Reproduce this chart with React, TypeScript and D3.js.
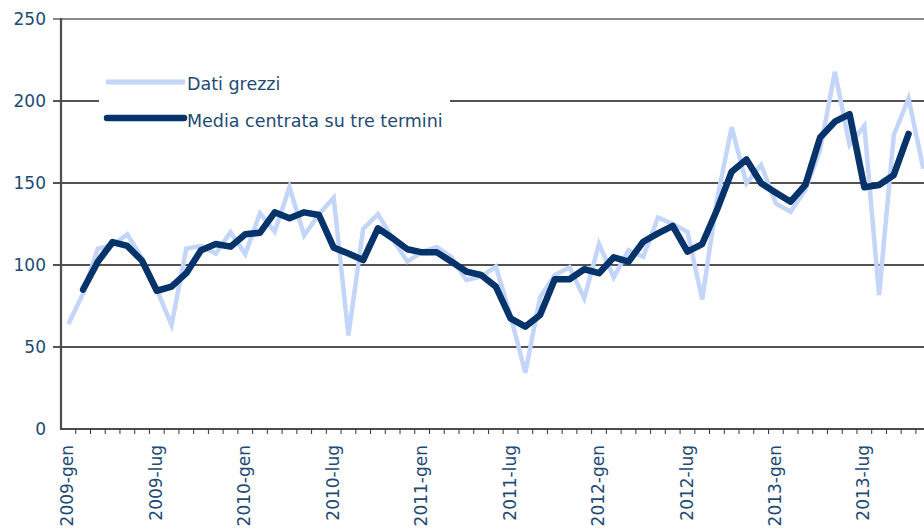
import React from "react";
import * as d3 from "d3";

// mesi: gen 2009 -> nov 2013
const years = [2009, 2010, 2011, 2012, 2013];
const monthNames = ["gen", "feb", "mar", "apr", "mag", "giu", "lug", "ago", "set", "ott", "nov", "dic"];
const categories: string[] = years
  .flatMap((y) => monthNames.map((m) => `${y}-${m}`))
  .slice(0, 59);

// Dati grezzi
const rawValues = [
  64, 82.7, 110, 112, 118.7, 104, 85, 63.4, 110, 111.6, 107, 120,
  106.7, 131.5, 120.3, 147.4, 118, 131, 141, 57, 122, 131, 116, 102,
  108, 111, 104.7, 90.9, 92.9, 99, 69, 34.3, 80.3, 93.9, 98.6, 79.7,
  112.8, 92.5, 109, 105, 129, 125, 120.3, 79, 139.6, 184, 149.8, 161,
  137.6, 132.5, 145.7, 170, 217.8, 173.2, 184.8, 81.7, 179.3, 201.6, 158.8,
];

// Media centrata su tre termini
const smoothValues: (number | null)[] = [
  null, 85, 102, 114, 111.6, 102.6, 84.3, 86.8, 95, 109, 112.8, 111.2,
  118.7, 119.7, 132.1, 128.5, 132.1, 130.5, 110.6, 107, 103, 122.4, 116.3, 109.6,
  107.7, 107.7, 102, 96, 93.9, 86.8, 67.5, 62.4, 69.5, 91.3, 91.3, 97.4,
  95, 104.7, 102, 114.2, 119.3, 123.8, 108.1, 112.8, 133.5, 156.9, 164.4, 149.8,
  144.1, 138.6, 148.8, 177.8, 187.4, 192, 147.4, 148.8, 154.9, 179.9, null,
];

const yTicks = [0, 50, 100, 150, 200, 250];
const legendLabels = ["Dati grezzi", "Media centrata su tre termini"];

const W = 924;
const H = 529;
const left = 61;
const top = 19;
const bottom = 429;
const step = 14.74;

const textColor = "#234a73";
const rawColor = "#c4d5fa";
const smoothColor = "#05336a";
const font = "DejaVu Sans, sans-serif";

export default function App() {
  const x = d3
    .scaleBand<string>()
    .domain(categories)
    .range([left, left + categories.length * step])
    .padding(0);
  const y = d3.scaleLinear().domain([0, 250]).range([bottom, top]);
  const right = x.range()[1];
  const cx = (c: string) => (x(c) ?? 0) + x.bandwidth() / 2;

  const rawLine = d3
    .line<number>()
    .x((_, i) => cx(categories[i]))
    .y((d) => y(d));

  const smoothLine = d3
    .line<number | null>()
    .defined((d) => d != null)
    .x((_, i) => cx(categories[i]))
    .y((d) => y(d as number));

  // every 6th month labelled
  const labelled = categories.filter((_, i) => i % 6 === 0);

  return (
    <svg
      width={W}
      height={H}
      style={{ position: "absolute", left: 0, top: 0, background: "#fff" }}
      fontFamily={font}
    >
      {/* griglia */}
      {yTicks
        .filter((t) => t > 0 && t < 250)
        .map((t) => (
          <line key={t} x1={left - 8} x2={right} y1={y(t)} y2={y(t)} stroke="#1a1a1a" strokeWidth={1.3} />
        ))}
      <line x1={left - 8} x2={right} y1={y(250)} y2={y(250)} stroke="#8a8a8a" strokeWidth={2.2} />

      {/* etichette asse y */}
      {yTicks.map((t) => (
        <text key={t} x={46} y={y(t)} dy="0.36em" textAnchor="end" fontSize={17} fill={textColor}>
          {t}
        </text>
      ))}

      {/* serie */}
      <path d={rawLine(rawValues) ?? ""} fill="none" stroke={rawColor} strokeWidth={4.5} strokeLinejoin="miter" />
      <path
        d={smoothLine(smoothValues) ?? ""}
        fill="none"
        stroke={smoothColor}
        strokeWidth={6.5}
        strokeLinejoin="round"
        strokeLinecap="round"
      />

      {/* assi */}
      <line x1={left} x2={left} y1={top - 1} y2={bottom + 1} stroke="#4d4d4d" strokeWidth={2.2} />
      <line x1={left} x2={right} y1={bottom} y2={bottom} stroke="#4d4d4d" strokeWidth={2.2} />
      {categories.map((c) => (
        <line key={c} x1={(x(c) ?? 0) + step} x2={(x(c) ?? 0) + step} y1={bottom} y2={bottom + 5} stroke="#333" strokeWidth={1} />
      ))}
      {labelled.map((c) => (
        <text
          key={c}
          transform={`translate(${cx(c) - 1},${bottom + 16}) rotate(-90)`}
          dy="0.36em"
          textAnchor="end"
          fontSize={17}
          fill={textColor}
        >
          {c}
        </text>
      ))}

      {/* legenda */}
      <rect x={99} y={62} width={351} height={78} fill="#fff" />
      <line x1={106} x2={185} y1={82} y2={82} stroke={rawColor} strokeWidth={5} />
      <line x1={107} x2={184} y1={118} y2={118} stroke={smoothColor} strokeWidth={6.5} strokeLinecap="round" />
      <text x={187} y={84} dy="0.36em" fontSize={17.5} fill={textColor}>
        {legendLabels[0]}
      </text>
      <text x={187} y={121} dy="0.36em" fontSize={17.5} fill={textColor}>
        {legendLabels[1]}
      </text>
    </svg>
  );
}
